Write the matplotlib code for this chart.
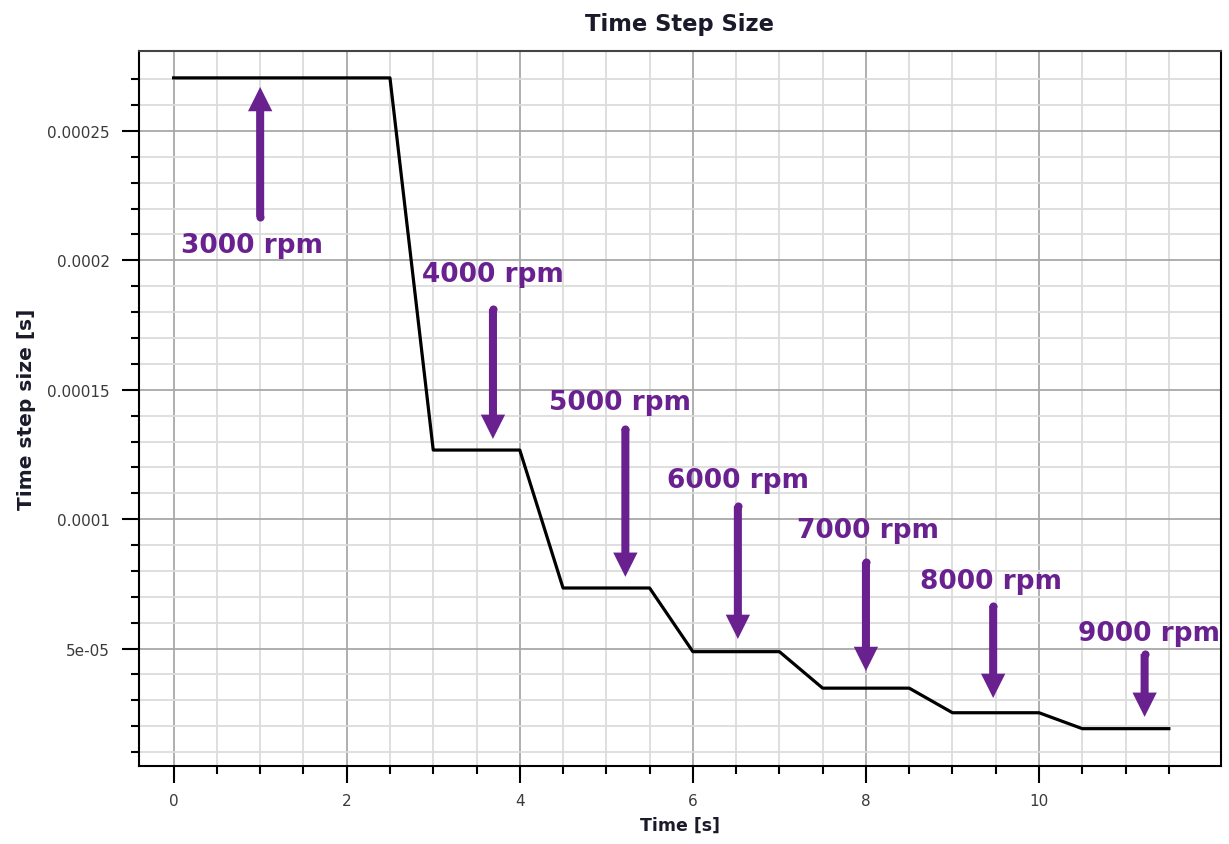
import numpy as np
import matplotlib.pyplot as plt
from matplotlib.ticker import FixedLocator, FuncFormatter

# time step size profile, one plateau per speed, 0.5 s ramps between them
time = [0, 2.5, 3, 4, 4.5, 5.5, 6, 7, 7.5, 8.5, 9, 10, 10.5, 11.5]
step = [2.705e-4, 2.705e-4, 1.267e-4, 1.267e-4, 7.34e-5, 7.34e-5, 4.88e-5,
        4.88e-5, 3.47e-5, 3.47e-5, 2.52e-5, 2.52e-5, 1.905e-5, 1.905e-5]

# speed labels and the arrows pointing at each plateau
speeds = ['3000 rpm', '4000 rpm', '5000 rpm', '6000 rpm', '7000 rpm', '8000 rpm', '9000 rpm']
label_x = [0.90, 3.69, 5.16, 6.52, 8.02, 9.45, 11.27]
label_y = [2.06e-4, 1.947e-4, 1.453e-4, 1.151e-4, 9.58e-5, 7.61e-5, 5.6e-5]
arrow_x = [1.0, 3.69, 5.22, 6.52, 8.0, 9.47, 11.22]
arrow_tail = [2.168e-4, 1.812e-4, 1.349e-4, 1.051e-4, 8.35e-5, 6.65e-5, 4.79e-5]
arrow_tip = [2.67e-4, 1.31e-4, 7.77e-5, 5.37e-5, 4.13e-5, 3.09e-5, 2.36e-5]

# tick positions
x_major = [0, 2, 4, 6, 8, 10]
x_minor = np.arange(0, 11.51, 0.5)
y_major = [5e-5, 1e-4, 1.5e-4, 2e-4, 2.5e-4]
y_minor = np.arange(1e-5, 2.71e-4, 1e-5)

purple = '#6a2190'
dark = '#1a1a2a'

fig = plt.figure(figsize=(12.29, 8.45), dpi=100)
ax = fig.add_axes([0.1131, 0.0927, 0.8802, 0.8461])

ax.plot(time, step, color='black', lw=2.3, zorder=3)

for s, lx, ly, xa, t0, t1 in zip(speeds, label_x, label_y, arrow_x, arrow_tail, arrow_tip):
    ax.text(lx, ly, s, color=purple, fontsize=19, fontweight='bold',
            ha='center', va='center', zorder=4)
    ax.annotate('', xy=(xa, t1), xytext=(xa, t0),
                arrowprops=dict(facecolor=purple, edgecolor='none', width=5.8,
                                headwidth=17.5, headlength=17.5, shrink=0),
                zorder=4)
    # rounded tail end of the shaft
    ax.plot(xa, t0, 'o', ms=5.8, color=purple, mew=0, zorder=4)

ax.set_xlim(-0.40, 12.1)
ax.set_ylim(4.75e-6, 2.81e-4)

ax.xaxis.set_major_locator(FixedLocator(x_major))
ax.xaxis.set_minor_locator(FixedLocator(x_minor))
ax.yaxis.set_major_locator(FixedLocator(y_major))
ax.yaxis.set_minor_locator(FixedLocator(y_minor))
ax.yaxis.set_major_formatter(FuncFormatter(lambda v, p: f'{v:g}'))

ax.grid(which='minor', color='#dcdcdc', lw=1.3, zorder=0)
ax.grid(which='major', color='#a8a8a8', lw=1.3, zorder=1)
ax.set_axisbelow(True)

ax.tick_params(which='major', length=12, width=1.5, direction='out',
               labelsize=11, labelcolor='#3a3a3a', pad=9)
ax.tick_params(which='minor', length=6, width=1.5, direction='out')
ax.tick_params(axis='x', pad=8)

for side in ['left', 'bottom', 'right']:
    ax.spines[side].set_linewidth(1.5)
    ax.spines[side].set_color('black')
ax.spines['top'].set_linewidth(1.5)
ax.spines['top'].set_color('#444444')

ax.set_title('Time Step Size', fontsize=16.3, fontweight='bold', color=dark, pad=15)
ax.set_xlabel('Time [s]', fontsize=12.5, fontweight='bold', color=dark, labelpad=5)
ax.set_ylabel('Time step size [s]', fontsize=14.5, fontweight='bold', color=dark, labelpad=8)

fig.savefig('out.png', dpi=100)
